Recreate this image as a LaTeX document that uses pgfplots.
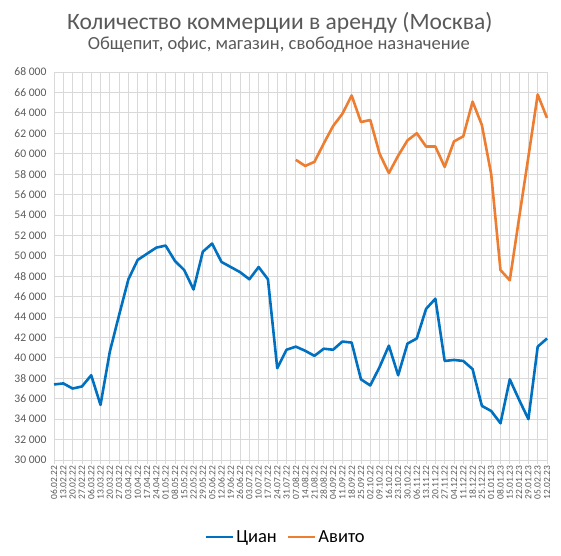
\documentclass[border=0pt]{standalone}
\usepackage{fontspec}
\setmainfont{Carlito}
\usepackage{pgfplots}
\pgfplotsset{compat=1.18}
\definecolor{cian}{RGB}{0,112,192}
\definecolor{avito}{RGB}{237,125,49}
\definecolor{gridgray}{RGB}{217,217,217}
\definecolor{txtgray}{RGB}{89,89,89}
\begin{document}
\begin{tikzpicture}
\begin{axis}[
  at={(0,0)}, anchor=south west,
  scale only axis,
  width=493bp, height=388bp,
  xmin=0, xmax=53, ymin=30000, ymax=68000,
  xtick={0,...,53},
  xticklabels={06.02.22,13.02.22,20.02.22,27.02.22,06.03.22,13.03.22,20.03.22,27.03.22,03.04.22,10.04.22,17.04.22,24.04.22,01.05.22,08.05.22,15.05.22,22.05.22,29.05.22,05.06.22,12.06.22,19.06.22,26.06.22,03.07.22,10.07.22,17.07.22,24.07.22,31.07.22,07.08.22,14.08.22,21.08.22,28.08.22,04.09.22,11.09.22,18.09.22,25.09.22,02.10.22,09.10.22,16.10.22,23.10.22,30.10.22,06.11.22,13.11.22,20.11.22,27.11.22,04.12.22,11.12.22,18.12.22,25.12.22,01.01.23,08.01.23,15.01.23,22.01.23,29.01.23,05.02.23,12.02.23},
  xticklabel style={rotate=90, anchor=east, font=\fontsize{9.5bp}{10bp}\selectfont, text=txtgray, inner sep=1.5bp},
  ytick={30000,32000,...,68000},
  scaled y ticks=false,
  yticklabel style={font=\fontsize{11.6bp}{12bp}\selectfont, text=txtgray, /pgf/number format/.cd, 1000 sep={\ }, assume math mode=true},
  grid=major,
  major grid style={draw=gridgray, line width=0.8bp},
  axis lines*=left,
  y axis line style={draw=none},
  x axis line style={draw=gridgray, line width=0.8bp},
  ytick style={draw=none},
  xtick style={draw=gridgray, line width=0.8bp},
  tick align=outside,
  major tick length=4bp,
  legend columns=2,
  legend style={at={(axis description cs:0.47,-0.198)}, anchor=center, draw=none, fill=none,
    font=\fontsize{18.5bp}{20bp}\selectfont, /tikz/every even column/.append style={column sep=8bp}},
  legend image code/.code={\draw[#1] (0bp,0bp) -- (27bp,0bp);},
  clip=false,
]
\addplot[cian, line width=2.6bp, line join=round] coordinates {
(0,37400) (1,37500) (2,37000) (3,37200) (4,38300) (5,35400) (6,40600) (7,44200) (8,47700) (9,49600)
(10,50200) (11,50800) (12,51000) (13,49500) (14,48600) (15,46700) (16,50400) (17,51200) (18,49400) (19,48900)
(20,48400) (21,47700) (22,48900) (23,47700) (24,39000) (25,40800) (26,41100) (27,40700) (28,40200) (29,40900)
(30,40800) (31,41600) (32,41500) (33,37900) (34,37300) (35,39100) (36,41200) (37,38300) (38,41400) (39,41900)
(40,44800) (41,45800) (42,39700) (43,39800) (44,39700) (45,38900) (46,35300) (47,34800) (48,33600) (49,37900)
(50,35900) (51,34000) (52,41100) (53,41900)
};
\addlegendentry{Циан}
\addplot[avito, line width=2.6bp, line join=round] coordinates {
(26,59400) (27,58800) (28,59200) (29,61000) (30,62700) (31,63900) (32,65700) (33,63100) (34,63300) (35,60000)
(36,58100) (37,59800) (38,61300) (39,62000) (40,60700) (41,60700) (42,58700) (43,61200) (44,61700) (45,65100)
(46,62800) (47,58000) (48,48600) (49,47600) (50,53700) (51,59700) (52,65800) (53,63500)
};
\addlegendentry{Авито}
\node[anchor=base, text=txtgray, font=\fontsize{23.5bp}{26bp}\selectfont] at (axis description cs:0.458,1.110) {Количество коммерции в аренду (Москва)};
\node[anchor=base, text=txtgray, font=\fontsize{18.5bp}{21bp}\selectfont] at (axis description cs:0.456,1.0585) {Общепит, офис, магазин, свободное назначение};
\end{axis}
\pgfresetboundingbox
\useasboundingbox (-54bp,-96bp) rectangle (507bp,460bp);
\end{tikzpicture}
\end{document}
